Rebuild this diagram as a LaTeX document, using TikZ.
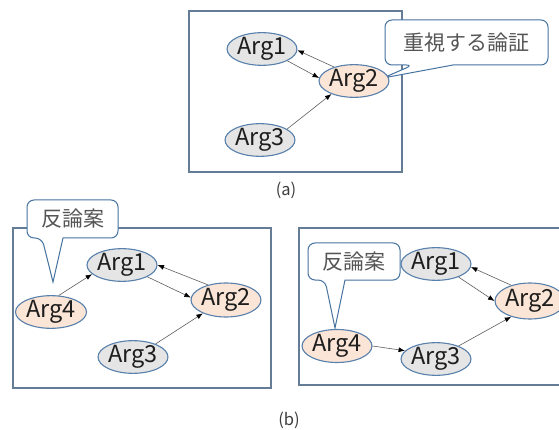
\documentclass[tikz,border=0pt]{standalone}
\usepackage{fontspec}
\setmainfont{Noto Sans CJK JP}
\usetikzlibrary{arrows.meta,shapes.geometric}
\definecolor{boxline}{RGB}{100,124,150}
\definecolor{argline}{RGB}{88,128,172}
\definecolor{calline}{RGB}{70,115,160}
\definecolor{grayfill}{RGB}{229,229,229}
\definecolor{orfill}{RGB}{251,229,214}
\definecolor{arrgray}{RGB}{95,95,95}
\definecolor{caltext}{RGB}{85,85,85}
\begin{document}
\begin{tikzpicture}[x=1pt,y=-1pt,
  panel/.style={draw=boxline, line width=1.4pt},
  arg/.style={ellipse, draw=argline, line width=1.1pt, inner sep=0pt, font=\fontsize{23.5}{23.5}\selectfont, text={rgb,255:red,30;green,30;blue,30}},
  gnode/.style={arg, fill=grayfill},
  onode/.style={arg, fill=orfill},
  arr/.style={draw=arrgray, line width=0.6pt, -{Latex[length=6.5pt,width=5pt,color=black]}},
  callout/.style={draw=calline, line width=1pt, fill=white},
  caltxt/.style={font=\fontsize{21}{21}\selectfont, text=caltext, inner sep=0pt},
  lab/.style={font=\fontsize{16.5}{16.5}\selectfont, text={rgb,255:red,60;green,60;blue,60}, inner sep=0pt}
]
\clip (0,0) rectangle (559,430);
\fill[white] (0,0) rectangle (559,430);

% ---------- panel (a) ----------
\draw[panel] (189,11) rectangle (402,172);
\coordinate (canw) at (385,20);
\coordinate (case) at (548,65);
\coordinate (cab1) at (413,65);
\coordinate (cab2) at (453,65);
\coordinate (catip) at (383,78);
\draw[callout] (cab2) [rounded corners=7pt] -- (case) -- (case |- canw) -- (canw) -- (canw |- case) -- (cab1) [sharp corners] -- (catip) -- cycle;
\node[caltxt] (cat) at (466.5,43) {重視する論証};

\node[gnode, minimum width=60pt, minimum height=28pt] (a1) at (262,49) {Arg1};
\node[onode, minimum width=61pt, minimum height=32pt] (a2) at (354,81) {Arg2};
\node[gnode, minimum width=64pt, minimum height=26pt] (a3) at (260,140) {Arg3};
\draw[arr] (a1.-25) -- (a2.175);
\draw[arr] (a2.145) -- (a1.-2);
\draw[arr] (a3.22) -- (a2.-150);
\node[lab] (la) at (286,190) {(a)};

% ---------- panel (b) left ----------
\draw[panel] (13,228) rectangle (271,388);
\coordinate (cbnw) at (27,200);
\coordinate (cbse) at (118,238);
\coordinate (cbb1) at (42,238);
\coordinate (cbb2) at (63,238);
\coordinate (cbtip) at (53,282);
\draw[callout] (cbb2) [rounded corners=7pt] -- (cbse) -- (cbse |- cbnw) -- (cbnw) -- (cbnw |- cbse) -- (cbb1) [sharp corners] -- (cbtip) -- cycle;
\node[caltxt] (cbt) at (72.5,219) {反論案};

\node[gnode, minimum width=70pt, minimum height=30pt] (b1) at (122,265) {Arg1};
\node[onode, minimum width=61pt, minimum height=34pt] (b2) at (226,300) {Arg2};
\node[gnode, minimum width=66pt, minimum height=31pt] (b3) at (133,357) {Arg3};
\node[onode, minimum width=71pt, minimum height=31pt] (b4) at (51,312) {Arg4};
\draw[arr] (b4.65) -- (b1.-163);
\draw[arr] (b1.-25) -- (b2.176);
\draw[arr] (b2.140) -- (b1.0);
\draw[arr] (b3.30) -- (b2.-150);

% ---------- panel (b) right ----------
\draw[panel] (299,228) rectangle (580,385);
\coordinate (ccnw) at (308,243);
\coordinate (ccse) at (400,280);
\coordinate (ccb1) at (325,280);
\coordinate (ccb2) at (345,280);
\coordinate (cctip) at (335,328);
\draw[callout] (ccb2) [rounded corners=7pt] -- (ccse) -- (ccse |- ccnw) -- (ccnw) -- (ccnw |- ccse) -- (ccb1) [sharp corners] -- (cctip) -- cycle;
\node[caltxt] (cct) at (354,261.5) {反論案};

\node[gnode, minimum width=62pt, minimum height=32pt] (c1) at (436,264) {Arg1};
\node[onode, minimum width=60pt, minimum height=36pt] (c2) at (530,301) {Arg2};
\node[gnode, minimum width=62pt, minimum height=28pt] (c3) at (436,359) {Arg3};
\node[onode, minimum width=60pt, minimum height=33pt] (c4) at (337,346) {Arg4};
\draw[arr] (c1.-30) -- (c2.180);
\draw[arr] (c2.140) -- (c1.-5);
\draw[arr] (c3.30) -- (c2.-140);
\draw[arr] (c4.0) -- (c3.165);

\node[lab] (lb) at (289,420) {(b)};
\end{tikzpicture}
\end{document}
